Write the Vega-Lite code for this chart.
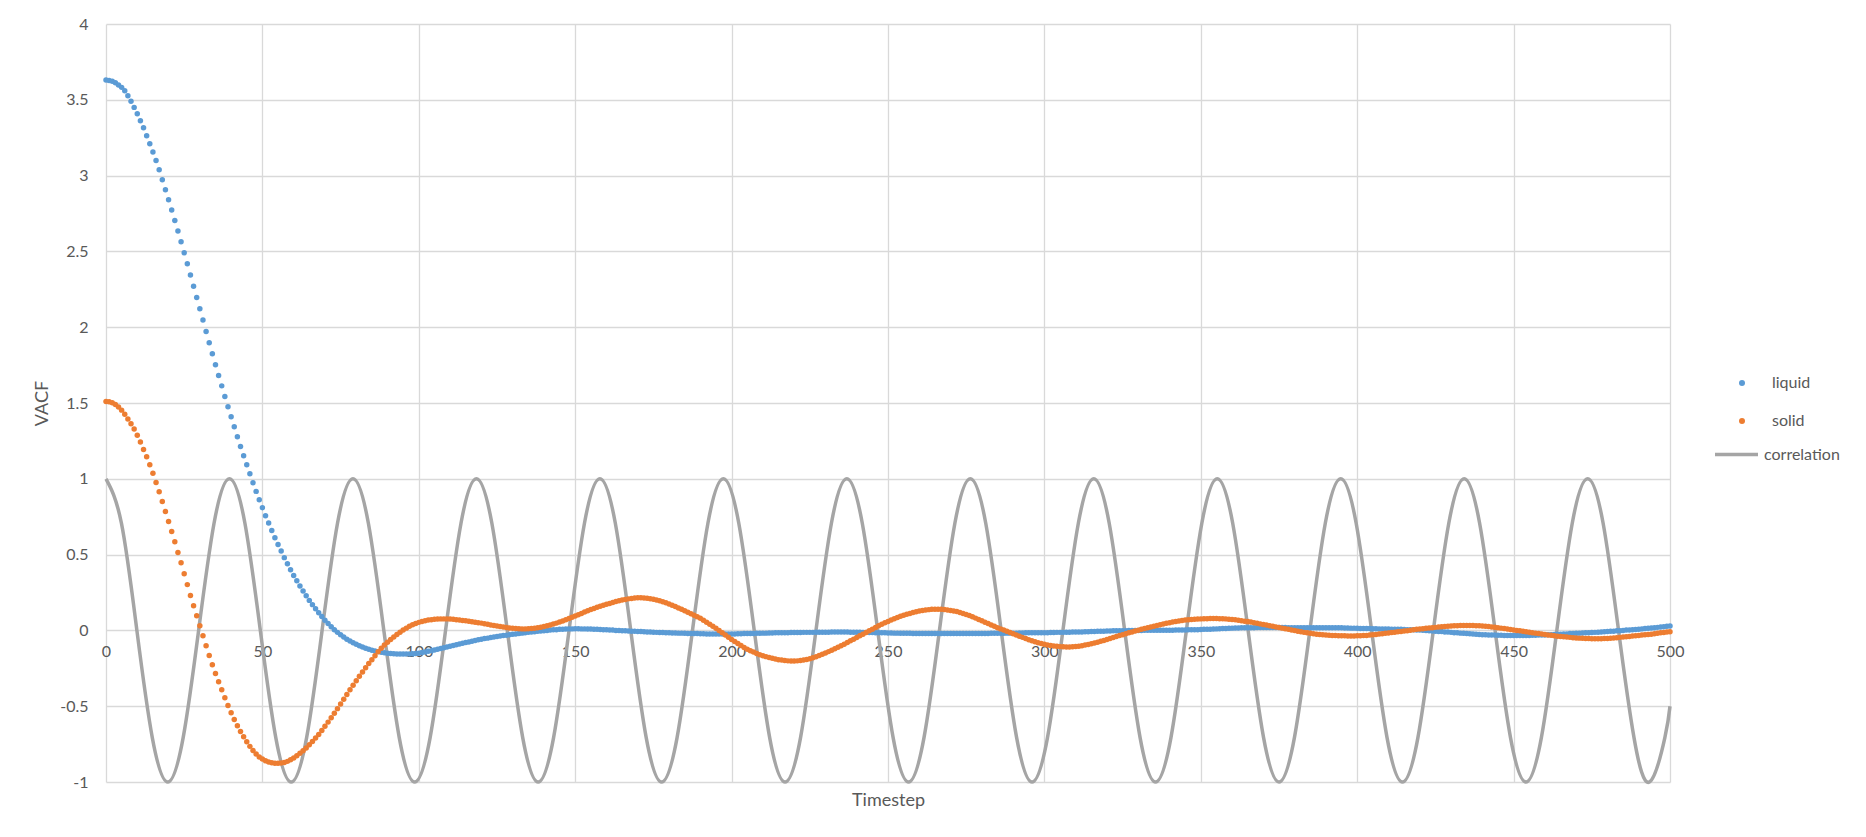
{
"$schema": "https://vega.github.io/schema/vega-lite/v6.json",
"width": 1564,
"height": 758,
"autosize": {"type": "none"},
"padding": {"left": 106, "top": 24, "right": 196, "bottom": 55},
"background": "white",
"config": {"view": {"stroke": null}, "font": "Lato"},
"datasets": {
"corr": [
{"t":0,"c":1},{"t":4.93,"c":0.707},{"t":9.87,"c":0},{"t":14.8,"c":-0.707},{"t":19.74,"c":-1},{"t":24.67,"c":-0.707},{"t":29.61,"c":0},{"t":34.54,"c":0.707},
{"t":39.47,"c":1},{"t":44.41,"c":0.707},{"t":49.34,"c":0},{"t":54.28,"c":-0.707},{"t":59.21,"c":-1},{"t":64.14,"c":-0.707},{"t":69.08,"c":0},{"t":74.01,"c":0.707},
{"t":78.95,"c":1},{"t":83.88,"c":0.707},{"t":88.82,"c":0},{"t":93.75,"c":-0.707},{"t":98.68,"c":-1},{"t":103.62,"c":-0.707},{"t":108.55,"c":0},{"t":113.49,"c":0.707},
{"t":118.42,"c":1},{"t":123.36,"c":0.707},{"t":128.29,"c":0},{"t":133.22,"c":-0.707},{"t":138.16,"c":-1},{"t":143.09,"c":-0.707},{"t":148.03,"c":0},{"t":152.96,"c":0.707},
{"t":157.89,"c":1},{"t":162.83,"c":0.707},{"t":167.76,"c":0},{"t":172.7,"c":-0.707},{"t":177.63,"c":-1},{"t":182.57,"c":-0.707},{"t":187.5,"c":0},{"t":192.43,"c":0.707},
{"t":197.37,"c":1},{"t":202.3,"c":0.707},{"t":207.24,"c":0},{"t":212.17,"c":-0.707},{"t":217.1,"c":-1},{"t":222.04,"c":-0.707},{"t":226.97,"c":0},{"t":231.91,"c":0.707},
{"t":236.84,"c":1},{"t":241.78,"c":0.707},{"t":246.71,"c":0},{"t":251.64,"c":-0.707},{"t":256.58,"c":-1},{"t":261.51,"c":-0.707},{"t":266.45,"c":0},{"t":271.38,"c":0.707},
{"t":276.32,"c":1},{"t":281.25,"c":0.707},{"t":286.18,"c":0},{"t":291.12,"c":-0.707},{"t":296.05,"c":-1},{"t":300.99,"c":-0.707},{"t":305.92,"c":0},{"t":310.85,"c":0.707},
{"t":315.79,"c":1},{"t":320.72,"c":0.707},{"t":325.66,"c":0},{"t":330.59,"c":-0.707},{"t":335.53,"c":-1},{"t":340.46,"c":-0.707},{"t":345.39,"c":0},{"t":350.33,"c":0.707},
{"t":355.26,"c":1},{"t":360.2,"c":0.707},{"t":365.13,"c":0},{"t":370.07,"c":-0.707},{"t":375,"c":-1},{"t":379.93,"c":-0.707},{"t":384.87,"c":0},{"t":389.8,"c":0.707},
{"t":394.74,"c":1},{"t":399.67,"c":0.707},{"t":404.61,"c":0},{"t":409.54,"c":-0.707},{"t":414.47,"c":-1},{"t":419.41,"c":-0.707},{"t":424.34,"c":0},{"t":429.28,"c":0.707},
{"t":434.21,"c":1},{"t":439.14,"c":0.707},{"t":444.08,"c":0},{"t":449.01,"c":-0.707},{"t":453.95,"c":-1},{"t":458.88,"c":-0.707},{"t":463.82,"c":0},{"t":468.75,"c":0.707},
{"t":473.68,"c":1},{"t":478.62,"c":0.707},{"t":483.55,"c":0},{"t":488.49,"c":-0.707},{"t":493.42,"c":-1},{"t":498.36,"c":-0.707},{"t":500,"c":-0.5}
],
"vacf": [
{"t":0,"l":3.630,"s":1.510},{"t":1,"l":3.628,"s":1.508},{"t":2,"l":3.622,"s":1.502},{"t":3,"l":3.612,"s":1.490},{"t":4,"l":3.598,"s":1.474},
{"t":5,"l":3.582,"s":1.453},{"t":6,"l":3.560,"s":1.426},{"t":7,"l":3.527,"s":1.395},{"t":8,"l":3.490,"s":1.363},{"t":9,"l":3.450,"s":1.329},
{"t":10,"l":3.408,"s":1.288},{"t":11,"l":3.362,"s":1.242},{"t":12,"l":3.315,"s":1.194},{"t":13,"l":3.263,"s":1.145},{"t":14,"l":3.210,"s":1.092},
{"t":15,"l":3.156,"s":1.036},{"t":16,"l":3.099,"s":0.976},{"t":17,"l":3.038,"s":0.915},{"t":18,"l":2.973,"s":0.851},{"t":19,"l":2.907,"s":0.785},
{"t":20,"l":2.841,"s":0.719},{"t":21,"l":2.773,"s":0.653},{"t":22,"l":2.704,"s":0.585},{"t":23,"l":2.635,"s":0.514},{"t":24,"l":2.564,"s":0.446},
{"t":25,"l":2.491,"s":0.374},{"t":26,"l":2.419,"s":0.302},{"t":27,"l":2.345,"s":0.230},{"t":28,"l":2.270,"s":0.163},{"t":29,"l":2.196,"s":0.097},
{"t":30,"l":2.122,"s":0.031},{"t":31,"l":2.048,"s":-0.035},{"t":32,"l":1.972,"s":-0.101},{"t":33,"l":1.898,"s":-0.165},{"t":34,"l":1.825,"s":-0.226},
{"t":35,"l":1.753,"s":-0.284},{"t":36,"l":1.682,"s":-0.338},{"t":37,"l":1.613,"s":-0.391},{"t":38,"l":1.543,"s":-0.444},{"t":39,"l":1.476,"s":-0.496},
{"t":40,"l":1.410,"s":-0.543},{"t":41,"l":1.344,"s":-0.588},{"t":42,"l":1.278,"s":-0.629},{"t":43,"l":1.213,"s":-0.667},{"t":44,"l":1.152,"s":-0.701},
{"t":45,"l":1.093,"s":-0.734},{"t":46,"l":1.033,"s":-0.765},{"t":47,"l":0.974,"s":-0.792},{"t":48,"l":0.917,"s":-0.816},{"t":49,"l":0.862,"s":-0.835},
{"t":50,"l":0.809,"s":-0.849},{"t":51,"l":0.757,"s":-0.860},{"t":52,"l":0.708,"s":-0.868},{"t":53,"l":0.659,"s":-0.873},{"t":54,"l":0.611,"s":-0.876},
{"t":55,"l":0.566,"s":-0.877},{"t":56,"l":0.523,"s":-0.875},{"t":57,"l":0.480,"s":-0.871},{"t":58,"l":0.440,"s":-0.864},{"t":59,"l":0.400,"s":-0.853},
{"t":60,"l":0.362,"s":-0.841},{"t":61,"l":0.327,"s":-0.827},{"t":62,"l":0.293,"s":-0.811},{"t":63,"l":0.260,"s":-0.794},{"t":64,"l":0.228,"s":-0.776},
{"t":65,"l":0.198,"s":-0.755},{"t":66,"l":0.170,"s":-0.733},{"t":67,"l":0.143,"s":-0.710},{"t":68,"l":0.117,"s":-0.686},{"t":69,"l":0.091,"s":-0.660},
{"t":70,"l":0.067,"s":-0.633},{"t":71,"l":0.045,"s":-0.605},{"t":72,"l":0.024,"s":-0.576},{"t":73,"l":0.005,"s":-0.546},{"t":74,"l":-0.013,"s":-0.516},
{"t":75,"l":-0.029,"s":-0.485},{"t":76,"l":-0.044,"s":-0.454},{"t":77,"l":-0.058,"s":-0.423},{"t":78,"l":-0.070,"s":-0.392},{"t":79,"l":-0.082,"s":-0.362},
{"t":80,"l":-0.092,"s":-0.332},{"t":81,"l":-0.101,"s":-0.303},{"t":82,"l":-0.110,"s":-0.274},{"t":83,"l":-0.118,"s":-0.246},{"t":84,"l":-0.125,"s":-0.219},
{"t":85,"l":-0.131,"s":-0.193},{"t":86,"l":-0.136,"s":-0.167},{"t":87,"l":-0.140,"s":-0.141},{"t":88,"l":-0.144,"s":-0.118},{"t":89,"l":-0.147,"s":-0.097},
{"t":90,"l":-0.150,"s":-0.078},{"t":91,"l":-0.152,"s":-0.060},{"t":92,"l":-0.154,"s":-0.043},{"t":93,"l":-0.155,"s":-0.027},{"t":94,"l":-0.156,"s":-0.012},
{"t":95,"l":-0.156,"s":0.002},{"t":96,"l":-0.156,"s":0.015},{"t":97,"l":-0.155,"s":0.027},{"t":98,"l":-0.154,"s":0.037},{"t":99,"l":-0.152,"s":0.046},
{"t":100,"l":-0.150,"s":0.053},{"t":101,"l":-0.146,"s":0.059},{"t":102,"l":-0.142,"s":0.064},{"t":103,"l":-0.138,"s":0.068},{"t":104,"l":-0.134,"s":0.071},
{"t":105,"l":-0.130,"s":0.073},{"t":106,"l":-0.125,"s":0.075},{"t":107,"l":-0.120,"s":0.076},{"t":108,"l":-0.115,"s":0.076},{"t":109,"l":-0.110,"s":0.076},
{"t":110,"l":-0.105,"s":0.075},{"t":111,"l":-0.100,"s":0.073},{"t":112,"l":-0.095,"s":0.071},{"t":113,"l":-0.090,"s":0.068},{"t":114,"l":-0.085,"s":0.066},
{"t":115,"l":-0.080,"s":0.063},{"t":116,"l":-0.076,"s":0.060},{"t":117,"l":-0.071,"s":0.057},{"t":118,"l":-0.067,"s":0.054},{"t":119,"l":-0.062,"s":0.051},
{"t":120,"l":-0.058,"s":0.048},{"t":121,"l":-0.054,"s":0.044},{"t":122,"l":-0.051,"s":0.040},{"t":123,"l":-0.047,"s":0.036},{"t":124,"l":-0.044,"s":0.032},
{"t":125,"l":-0.040,"s":0.029},{"t":126,"l":-0.037,"s":0.025},{"t":127,"l":-0.034,"s":0.022},{"t":128,"l":-0.032,"s":0.019},{"t":129,"l":-0.029,"s":0.016},
{"t":130,"l":-0.026,"s":0.014},{"t":131,"l":-0.023,"s":0.012},{"t":132,"l":-0.021,"s":0.011},{"t":133,"l":-0.018,"s":0.010},{"t":134,"l":-0.016,"s":0.010},
{"t":135,"l":-0.013,"s":0.011},{"t":136,"l":-0.011,"s":0.012},{"t":137,"l":-0.009,"s":0.014},{"t":138,"l":-0.006,"s":0.017},{"t":139,"l":-0.004,"s":0.021},
{"t":140,"l":-0.002,"s":0.025},{"t":141,"l":0.000,"s":0.030},{"t":142,"l":0.002,"s":0.036},{"t":143,"l":0.004,"s":0.042},{"t":144,"l":0.005,"s":0.048},
{"t":145,"l":0.007,"s":0.055},{"t":146,"l":0.008,"s":0.062},{"t":147,"l":0.009,"s":0.070},{"t":148,"l":0.010,"s":0.078},{"t":149,"l":0.010,"s":0.086},
{"t":150,"l":0.011,"s":0.095},{"t":151,"l":0.011,"s":0.103},{"t":152,"l":0.010,"s":0.112},{"t":153,"l":0.010,"s":0.121},{"t":154,"l":0.009,"s":0.130},
{"t":155,"l":0.009,"s":0.138},{"t":156,"l":0.008,"s":0.145},{"t":157,"l":0.007,"s":0.152},{"t":158,"l":0.006,"s":0.159},{"t":159,"l":0.005,"s":0.166},
{"t":160,"l":0.004,"s":0.172},{"t":161,"l":0.003,"s":0.178},{"t":162,"l":0.002,"s":0.184},{"t":163,"l":0.000,"s":0.190},{"t":164,"l":-0.001,"s":0.195},
{"t":165,"l":-0.002,"s":0.200},{"t":166,"l":-0.003,"s":0.204},{"t":167,"l":-0.004,"s":0.208},{"t":168,"l":-0.005,"s":0.211},{"t":169,"l":-0.006,"s":0.213},
{"t":170,"l":-0.007,"s":0.215},{"t":171,"l":-0.008,"s":0.215},{"t":172,"l":-0.009,"s":0.214},{"t":173,"l":-0.010,"s":0.212},{"t":174,"l":-0.011,"s":0.209},
{"t":175,"l":-0.012,"s":0.205},{"t":176,"l":-0.013,"s":0.200},{"t":177,"l":-0.014,"s":0.195},{"t":178,"l":-0.014,"s":0.189},{"t":179,"l":-0.015,"s":0.182},
{"t":180,"l":-0.016,"s":0.174},{"t":181,"l":-0.017,"s":0.166},{"t":182,"l":-0.017,"s":0.157},{"t":183,"l":-0.018,"s":0.148},{"t":184,"l":-0.018,"s":0.139},
{"t":185,"l":-0.019,"s":0.130},{"t":186,"l":-0.020,"s":0.120},{"t":187,"l":-0.020,"s":0.110},{"t":188,"l":-0.021,"s":0.100},{"t":189,"l":-0.021,"s":0.090},
{"t":190,"l":-0.022,"s":0.080},{"t":191,"l":-0.022,"s":0.067},{"t":192,"l":-0.023,"s":0.054},{"t":193,"l":-0.023,"s":0.041},{"t":194,"l":-0.024,"s":0.027},
{"t":195,"l":-0.024,"s":0.014},{"t":196,"l":-0.024,"s":0.000},{"t":197,"l":-0.024,"s":-0.015},{"t":198,"l":-0.023,"s":-0.030},{"t":199,"l":-0.023,"s":-0.045},
{"t":200,"l":-0.023,"s":-0.060},{"t":201,"l":-0.023,"s":-0.073},{"t":202,"l":-0.022,"s":-0.086},{"t":203,"l":-0.022,"s":-0.099},{"t":204,"l":-0.021,"s":-0.112},
{"t":205,"l":-0.021,"s":-0.124},{"t":206,"l":-0.020,"s":-0.134},{"t":207,"l":-0.020,"s":-0.143},{"t":208,"l":-0.019,"s":-0.152},{"t":209,"l":-0.019,"s":-0.160},
{"t":210,"l":-0.018,"s":-0.167},{"t":211,"l":-0.018,"s":-0.173},{"t":212,"l":-0.017,"s":-0.179},{"t":213,"l":-0.017,"s":-0.184},{"t":214,"l":-0.016,"s":-0.189},
{"t":215,"l":-0.016,"s":-0.193},{"t":216,"l":-0.016,"s":-0.196},{"t":217,"l":-0.015,"s":-0.199},{"t":218,"l":-0.015,"s":-0.201},{"t":219,"l":-0.014,"s":-0.202},
{"t":220,"l":-0.014,"s":-0.202},{"t":221,"l":-0.014,"s":-0.201},{"t":222,"l":-0.014,"s":-0.199},{"t":223,"l":-0.013,"s":-0.196},{"t":224,"l":-0.013,"s":-0.192},
{"t":225,"l":-0.013,"s":-0.187},{"t":226,"l":-0.013,"s":-0.181},{"t":227,"l":-0.012,"s":-0.174},{"t":228,"l":-0.012,"s":-0.166},{"t":229,"l":-0.012,"s":-0.158},
{"t":230,"l":-0.012,"s":-0.149},{"t":231,"l":-0.012,"s":-0.140},{"t":232,"l":-0.011,"s":-0.131},{"t":233,"l":-0.011,"s":-0.121},{"t":234,"l":-0.011,"s":-0.111},
{"t":235,"l":-0.011,"s":-0.101},{"t":236,"l":-0.011,"s":-0.091},{"t":237,"l":-0.011,"s":-0.080},{"t":238,"l":-0.012,"s":-0.069},{"t":239,"l":-0.012,"s":-0.058},
{"t":240,"l":-0.012,"s":-0.047},{"t":241,"l":-0.012,"s":-0.036},{"t":242,"l":-0.013,"s":-0.025},{"t":243,"l":-0.013,"s":-0.014},{"t":244,"l":-0.014,"s":-0.003},
{"t":245,"l":-0.014,"s":0.008},{"t":246,"l":-0.015,"s":0.019},{"t":247,"l":-0.015,"s":0.030},{"t":248,"l":-0.016,"s":0.040},{"t":249,"l":-0.016,"s":0.050},
{"t":250,"l":-0.017,"s":0.059},{"t":251,"l":-0.017,"s":0.068},{"t":252,"l":-0.018,"s":0.077},{"t":253,"l":-0.018,"s":0.085},{"t":254,"l":-0.019,"s":0.093},
{"t":255,"l":-0.019,"s":0.100},{"t":256,"l":-0.019,"s":0.106},{"t":257,"l":-0.019,"s":0.112},{"t":258,"l":-0.020,"s":0.118},{"t":259,"l":-0.020,"s":0.123},
{"t":260,"l":-0.020,"s":0.128},{"t":261,"l":-0.020,"s":0.132},{"t":262,"l":-0.020,"s":0.135},{"t":263,"l":-0.020,"s":0.137},{"t":264,"l":-0.020,"s":0.139},
{"t":265,"l":-0.020,"s":0.140},{"t":266,"l":-0.020,"s":0.140},{"t":267,"l":-0.020,"s":0.139},{"t":268,"l":-0.020,"s":0.138},{"t":269,"l":-0.020,"s":0.135},
{"t":270,"l":-0.020,"s":0.132},{"t":271,"l":-0.020,"s":0.128},{"t":272,"l":-0.020,"s":0.124},{"t":273,"l":-0.020,"s":0.118},{"t":274,"l":-0.020,"s":0.112},
{"t":275,"l":-0.020,"s":0.105},{"t":276,"l":-0.020,"s":0.098},{"t":277,"l":-0.020,"s":0.090},{"t":278,"l":-0.020,"s":0.081},{"t":279,"l":-0.020,"s":0.072},
{"t":280,"l":-0.020,"s":0.063},{"t":281,"l":-0.020,"s":0.054},{"t":282,"l":-0.020,"s":0.045},{"t":283,"l":-0.019,"s":0.036},{"t":284,"l":-0.019,"s":0.027},
{"t":285,"l":-0.019,"s":0.018},{"t":286,"l":-0.019,"s":0.010},{"t":287,"l":-0.019,"s":0.002},{"t":288,"l":-0.018,"s":-0.006},{"t":289,"l":-0.018,"s":-0.014},
{"t":290,"l":-0.018,"s":-0.022},{"t":291,"l":-0.018,"s":-0.030},{"t":292,"l":-0.017,"s":-0.038},{"t":293,"l":-0.017,"s":-0.046},{"t":294,"l":-0.016,"s":-0.054},
{"t":295,"l":-0.016,"s":-0.061},{"t":296,"l":-0.016,"s":-0.068},{"t":297,"l":-0.016,"s":-0.075},{"t":298,"l":-0.015,"s":-0.081},{"t":299,"l":-0.015,"s":-0.087},
{"t":300,"l":-0.015,"s":-0.092},{"t":301,"l":-0.015,"s":-0.096},{"t":302,"l":-0.014,"s":-0.100},{"t":303,"l":-0.014,"s":-0.103},{"t":304,"l":-0.013,"s":-0.105},
{"t":305,"l":-0.013,"s":-0.107},{"t":306,"l":-0.013,"s":-0.108},{"t":307,"l":-0.012,"s":-0.109},{"t":308,"l":-0.012,"s":-0.109},{"t":309,"l":-0.011,"s":-0.108},
{"t":310,"l":-0.011,"s":-0.106},{"t":311,"l":-0.010,"s":-0.104},{"t":312,"l":-0.010,"s":-0.101},{"t":313,"l":-0.009,"s":-0.097},{"t":314,"l":-0.009,"s":-0.093},
{"t":315,"l":-0.008,"s":-0.088},{"t":316,"l":-0.007,"s":-0.083},{"t":317,"l":-0.006,"s":-0.078},{"t":318,"l":-0.006,"s":-0.072},{"t":319,"l":-0.005,"s":-0.066},
{"t":320,"l":-0.004,"s":-0.060},{"t":321,"l":-0.004,"s":-0.053},{"t":322,"l":-0.003,"s":-0.047},{"t":323,"l":-0.003,"s":-0.040},{"t":324,"l":-0.002,"s":-0.034},
{"t":325,"l":-0.002,"s":-0.028},{"t":326,"l":-0.002,"s":-0.022},{"t":327,"l":-0.001,"s":-0.016},{"t":328,"l":-0.001,"s":-0.010},{"t":329,"l":0.000,"s":-0.004},
{"t":330,"l":0.000,"s":0.001},{"t":331,"l":0.000,"s":0.007},{"t":332,"l":0.001,"s":0.013},{"t":333,"l":0.001,"s":0.018},{"t":334,"l":0.001,"s":0.023},
{"t":335,"l":0.001,"s":0.028},{"t":336,"l":0.001,"s":0.033},{"t":337,"l":0.001,"s":0.038},{"t":338,"l":0.001,"s":0.042},{"t":339,"l":0.001,"s":0.047},
{"t":340,"l":0.001,"s":0.051},{"t":341,"l":0.001,"s":0.055},{"t":342,"l":0.002,"s":0.059},{"t":343,"l":0.002,"s":0.062},{"t":344,"l":0.003,"s":0.065},
{"t":345,"l":0.003,"s":0.068},{"t":346,"l":0.004,"s":0.070},{"t":347,"l":0.004,"s":0.072},{"t":348,"l":0.005,"s":0.074},{"t":349,"l":0.005,"s":0.075},
{"t":350,"l":0.006,"s":0.076},{"t":351,"l":0.007,"s":0.077},{"t":352,"l":0.008,"s":0.077},{"t":353,"l":0.008,"s":0.078},{"t":354,"l":0.009,"s":0.078},
{"t":355,"l":0.010,"s":0.078},{"t":356,"l":0.011,"s":0.077},{"t":357,"l":0.012,"s":0.077},{"t":358,"l":0.013,"s":0.076},{"t":359,"l":0.014,"s":0.074},
{"t":360,"l":0.015,"s":0.072},{"t":361,"l":0.016,"s":0.070},{"t":362,"l":0.016,"s":0.067},{"t":363,"l":0.017,"s":0.064},{"t":364,"l":0.017,"s":0.061},
{"t":365,"l":0.018,"s":0.058},{"t":366,"l":0.018,"s":0.055},{"t":367,"l":0.018,"s":0.051},{"t":368,"l":0.019,"s":0.047},{"t":369,"l":0.019,"s":0.043},
{"t":370,"l":0.019,"s":0.039},{"t":371,"l":0.019,"s":0.035},{"t":372,"l":0.019,"s":0.031},{"t":373,"l":0.019,"s":0.027},{"t":374,"l":0.019,"s":0.023},
{"t":375,"l":0.019,"s":0.019},{"t":376,"l":0.019,"s":0.015},{"t":377,"l":0.019,"s":0.011},{"t":378,"l":0.018,"s":0.007},{"t":379,"l":0.018,"s":0.003},
{"t":380,"l":0.018,"s":-0.001},{"t":381,"l":0.018,"s":-0.005},{"t":382,"l":0.018,"s":-0.009},{"t":383,"l":0.018,"s":-0.013},{"t":384,"l":0.018,"s":-0.016},
{"t":385,"l":0.018,"s":-0.019},{"t":386,"l":0.018,"s":-0.022},{"t":387,"l":0.018,"s":-0.025},{"t":388,"l":0.018,"s":-0.027},{"t":389,"l":0.018,"s":-0.029},
{"t":390,"l":0.018,"s":-0.031},{"t":391,"l":0.018,"s":-0.032},{"t":392,"l":0.018,"s":-0.033},{"t":393,"l":0.017,"s":-0.034},{"t":394,"l":0.017,"s":-0.035},
{"t":395,"l":0.017,"s":-0.036},{"t":396,"l":0.016,"s":-0.036},{"t":397,"l":0.016,"s":-0.037},{"t":398,"l":0.015,"s":-0.037},{"t":399,"l":0.015,"s":-0.037},
{"t":400,"l":0.014,"s":-0.036},{"t":401,"l":0.013,"s":-0.035},{"t":402,"l":0.013,"s":-0.034},{"t":403,"l":0.012,"s":-0.033},{"t":404,"l":0.012,"s":-0.031},
{"t":405,"l":0.011,"s":-0.029},{"t":406,"l":0.011,"s":-0.027},{"t":407,"l":0.010,"s":-0.024},{"t":408,"l":0.010,"s":-0.022},{"t":409,"l":0.009,"s":-0.019},
{"t":410,"l":0.009,"s":-0.017},{"t":411,"l":0.008,"s":-0.014},{"t":412,"l":0.008,"s":-0.012},{"t":413,"l":0.007,"s":-0.009},{"t":414,"l":0.007,"s":-0.007},
{"t":415,"l":0.006,"s":-0.004},{"t":416,"l":0.005,"s":-0.002},{"t":417,"l":0.004,"s":0.001},{"t":418,"l":0.004,"s":0.004},{"t":419,"l":0.003,"s":0.007},
{"t":420,"l":0.002,"s":0.009},{"t":421,"l":0.001,"s":0.011},{"t":422,"l":-0.001,"s":0.014},{"t":423,"l":-0.002,"s":0.016},{"t":424,"l":-0.004,"s":0.018},
{"t":425,"l":-0.005,"s":0.020},{"t":426,"l":-0.007,"s":0.022},{"t":427,"l":-0.008,"s":0.024},{"t":428,"l":-0.010,"s":0.026},{"t":429,"l":-0.011,"s":0.028},
{"t":430,"l":-0.013,"s":0.029},{"t":431,"l":-0.015,"s":0.030},{"t":432,"l":-0.016,"s":0.031},{"t":433,"l":-0.018,"s":0.032},{"t":434,"l":-0.019,"s":0.033},
{"t":435,"l":-0.021,"s":0.033},{"t":436,"l":-0.022,"s":0.033},{"t":437,"l":-0.024,"s":0.032},{"t":438,"l":-0.025,"s":0.031},{"t":439,"l":-0.027,"s":0.030},
{"t":440,"l":-0.028,"s":0.029},{"t":441,"l":-0.029,"s":0.027},{"t":442,"l":-0.030,"s":0.025},{"t":443,"l":-0.030,"s":0.023},{"t":444,"l":-0.031,"s":0.021},
{"t":445,"l":-0.032,"s":0.018},{"t":446,"l":-0.032,"s":0.015},{"t":447,"l":-0.033,"s":0.012},{"t":448,"l":-0.033,"s":0.009},{"t":449,"l":-0.034,"s":0.006},
{"t":450,"l":-0.034,"s":0.003},{"t":451,"l":-0.034,"s":0.000},{"t":452,"l":-0.034,"s":-0.003},{"t":453,"l":-0.033,"s":-0.006},{"t":454,"l":-0.033,"s":-0.009},
{"t":455,"l":-0.033,"s":-0.012},{"t":456,"l":-0.032,"s":-0.015},{"t":457,"l":-0.032,"s":-0.018},{"t":458,"l":-0.031,"s":-0.021},{"t":459,"l":-0.031,"s":-0.024},
{"t":460,"l":-0.030,"s":-0.027},{"t":461,"l":-0.029,"s":-0.030},{"t":462,"l":-0.028,"s":-0.032},{"t":463,"l":-0.027,"s":-0.035},{"t":464,"l":-0.026,"s":-0.038},
{"t":465,"l":-0.025,"s":-0.040},{"t":466,"l":-0.024,"s":-0.042},{"t":467,"l":-0.023,"s":-0.044},{"t":468,"l":-0.021,"s":-0.046},{"t":469,"l":-0.020,"s":-0.048},
{"t":470,"l":-0.019,"s":-0.050},{"t":471,"l":-0.018,"s":-0.051},{"t":472,"l":-0.017,"s":-0.052},{"t":473,"l":-0.016,"s":-0.053},{"t":474,"l":-0.015,"s":-0.054},
{"t":475,"l":-0.014,"s":-0.055},{"t":476,"l":-0.013,"s":-0.055},{"t":477,"l":-0.012,"s":-0.055},{"t":478,"l":-0.010,"s":-0.055},{"t":479,"l":-0.009,"s":-0.054},
{"t":480,"l":-0.008,"s":-0.053},{"t":481,"l":-0.006,"s":-0.052},{"t":482,"l":-0.005,"s":-0.050},{"t":483,"l":-0.003,"s":-0.048},{"t":484,"l":-0.002,"s":-0.046},
{"t":485,"l":0.000,"s":-0.044},{"t":486,"l":0.002,"s":-0.042},{"t":487,"l":0.003,"s":-0.040},{"t":488,"l":0.005,"s":-0.037},{"t":489,"l":0.006,"s":-0.035},
{"t":490,"l":0.008,"s":-0.033},{"t":491,"l":0.010,"s":-0.031},{"t":492,"l":0.012,"s":-0.029},{"t":493,"l":0.014,"s":-0.027},{"t":494,"l":0.016,"s":-0.025},
{"t":495,"l":0.018,"s":-0.022},{"t":496,"l":0.020,"s":-0.019},{"t":497,"l":0.022,"s":-0.016},{"t":498,"l":0.024,"s":-0.014},{"t":499,"l":0.027,"s":-0.011},
{"t":500,"l":0.029,"s":-0.009}
]
},
"layer": [
{
"data": {"name": "corr"},
"mark": {"type": "line", "interpolate": "natural", "strokeWidth": 3.5},
"encoding": {
"x": {"field": "t", "type": "quantitative", "scale": {"domain": [0, 500], "nice": false, "zero": false},
"axis": {"title": "Timestep", "values": [0,50,100,150,200,250,300,350,400,450,500], "offset": -151.6, "grid": true, "gridColor": "#d9d9d9", "gridWidth": 1.3, "domain": false, "ticks": false, "tickSize": 0, "labelPadding": 13, "labelFontSize": 16, "labelColor": "#595959", "labelFont": "Lato", "labelFlush": false, "labelOverlap": false, "labelBound": false, "titleFont": "Lato", "titleFontSize": 18, "titleFontWeight": "normal", "titleColor": "#595959", "titleY": 175, "titleBaseline": "alphabetic"}},
"y": {"field": "c", "type": "quantitative", "scale": {"domain": [-1, 4], "nice": false, "zero": false},
"axis": {"title": "VACF", "values": [-1,-0.5,0,0.5,1,1.5,2,2.5,3,3.5,4], "labelExpr": "'' + datum.value", "grid": true, "gridColor": "#d9d9d9", "gridWidth": 1.3, "domain": false, "ticks": false, "tickSize": 0, "labelPadding": 18, "labelFontSize": 16, "labelColor": "#595959", "labelFont": "Lato", "labelOverlap": false, "labelBound": false, "titleFont": "Lato", "titleFontSize": 18, "titleFontWeight": "normal", "titleColor": "#595959", "titleAngle": -90, "titleX": -59, "titleY": 379, "titleAlign": "center", "titleBaseline": "alphabetic"}},
"stroke": {"datum": "correlation", "type": "nominal", "scale": {"domain": ["correlation"], "range": ["#A5A5A5"]},
"legend": {"title": null, "orient": "none", "legendX": 1607, "legendY": 407, "symbolType": "stroke", "symbolSize": 1849, "symbolStrokeWidth": 3.5, "labelOffset": 4, "labelFontSize": 16, "labelColor": "#595959", "labelFont": "Lato", "padding": 0}}
}
},
{
"data": {"name": "vacf"},
"mark": {"type": "point", "filled": true, "size": 30, "opacity": 1},
"encoding": {
"x": {"field": "t", "type": "quantitative"},
"y": {"field": "l", "type": "quantitative"},
"fill": {"datum": "liquid", "type": "nominal", "scale": {"domain": ["liquid", "solid"], "range": ["#5B9BD5", "#ED7D31"]},
"legend": {"title": null, "orient": "none", "legendX": 1628, "legendY": 351, "symbolType": "circle", "symbolSize": 36, "symbolStrokeWidth": 0, "labelOffset": 22, "rowPadding": 22, "labelFontSize": 16, "labelColor": "#595959", "labelFont": "Lato", "padding": 0}}
}
},
{
"data": {"name": "vacf"},
"mark": {"type": "point", "filled": true, "size": 30, "opacity": 1},
"encoding": {
"x": {"field": "t", "type": "quantitative"},
"y": {"field": "s", "type": "quantitative"},
"fill": {"datum": "solid", "type": "nominal"}
}
}
]
}
